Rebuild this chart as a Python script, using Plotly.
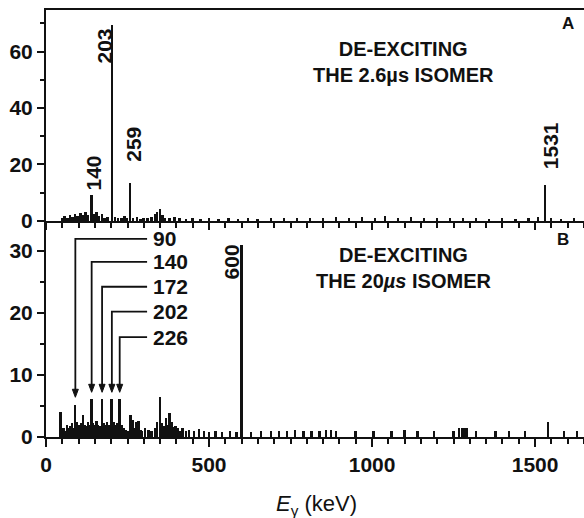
import plotly.graph_objects as go

# ---- Panel A: de-exciting the 2.6 us isomer ----
a_energy = [50, 58, 66, 74, 82, 90, 98, 106, 114, 122, 130, 140, 148, 156, 164, 172, 180, 190,
            203, 212, 222, 232, 242, 250, 259, 268, 280, 290, 300, 312, 325, 335, 342, 350, 358,
            366, 380, 395, 410, 430, 450, 475, 500, 530, 560, 590, 620, 650, 690, 730, 770, 810,
            850, 890, 930, 970, 1010, 1040, 1080, 1120, 1160, 1200, 1240, 1280, 1320, 1360, 1400,
            1440, 1480, 1510, 1531, 1550, 1580, 1620]
a_counts = [1.0, 1.8, 1.2, 2.2, 1.5, 2.4, 1.8, 2.8, 2.0, 3.2, 2.2, 9.2, 2.6, 3.0, 1.8, 2.4, 1.2, 1.5,
            69.5, 1.4, 1.0, 1.2, 1.8, 1.0, 13.5, 1.0, 1.4, 0.8, 1.2, 1.0, 1.5, 2.4, 3.0, 4.2, 2.0,
            1.2, 1.0, 1.4, 1.0, 0.8, 1.2, 0.8, 1.0, 0.8, 1.0, 0.8, 1.0, 0.8, 1.0, 1.2, 1.0, 1.2,
            1.0, 1.4, 1.0, 1.4, 1.2, 1.6, 1.2, 1.4, 1.0, 1.2, 1.0, 1.0, 1.0, 0.8, 1.0,
            0.8, 1.0, 1.4, 12.7, 1.0, 0.8, 1.0]
a_labels = ["140", "203", "259", "1531"]
a_label_x = [146, 179, 270, 1546]
a_label_y = [17.0, 61.9, 27.0, 26.5]

# ---- Panel B: de-exciting the 20 us isomer ----
b_energy = [45, 50, 55, 60, 65, 70, 75, 80, 85, 90, 95, 100, 105, 110, 115, 120, 125, 130, 135,
            140, 145, 150, 155, 160, 165, 172, 178, 183, 188, 193, 202, 208, 213, 218, 226, 232,
            238, 245, 252, 260, 266, 272, 278, 284, 290, 296, 305, 315, 325, 335, 342, 350, 356,
            362, 368, 374, 380, 386, 392, 398, 404, 412, 420, 430, 440, 455, 470, 485, 500, 520,
            540, 565, 585, 600, 630, 660, 690, 715, 740, 765, 790, 815, 840, 860, 875, 890, 950,
            1005, 1060, 1100, 1140, 1190, 1250, 1268, 1276, 1284, 1292, 1320, 1380, 1420, 1470,
            1540, 1590, 1630]
b_counts = [4.0, 1.2, 1.5, 1.0, 2.0, 1.5, 1.8, 2.2, 1.5, 5.2, 2.5, 2.0, 1.8, 2.2, 3.5, 2.0, 1.8, 2.4, 2.0,
            6.2, 2.2, 2.0, 2.6, 2.0, 1.8, 6.2, 2.2, 2.0, 2.4, 2.0, 6.2, 2.4, 2.0, 2.2, 6.2, 2.0,
            1.5, 1.2, 1.0, 3.6, 2.8, 1.5, 2.5, 2.6, 1.2, 1.0, 1.5, 1.2, 1.0, 1.4, 2.5, 6.4, 2.2,
            1.8, 3.0, 2.0, 3.8, 2.5, 1.6, 1.8, 1.4, 1.0, 1.4, 1.0, 1.2, 1.0, 1.3, 1.0, 0.8, 1.0,
            0.8, 1.0, 0.8, 31.0, 0.8, 1.0, 1.0, 1.0, 1.0, 1.2, 1.0, 1.0, 1.0, 1.2, 1.2, 1.0, 1.0,
            1.0, 1.0, 1.2, 1.0, 1.0, 1.0, 1.5, 1.5, 1.5, 1.5, 1.0, 1.0, 1.0, 1.0,
            2.4, 1.0, 1.0]
b_peak_labels = ["600"]
b_peak_label_x = [569]
b_peak_label_y = [28.2]
b_arrow_energy = [90, 140, 172, 202, 226]
b_arrow_text = ["90", "140", "172", "202", "226"]
b_arrow_label_y = [31.9, 28.2, 24.2, 20.2, 16.1]
b_arrow_tip_y = [6.4, 7.2, 7.2, 7.2, 7.2]
b_arrow_turn_x = 310
b_arrow_text_x = 322

FONT = "Liberation Sans, Arial, Helvetica, sans-serif"
INK = "#111111"

X_MAX = 1650
YB_MAX = 34.8
YA_MAX = 74.7
ML, MR, MT, MB = 46, 0, 10, 81
W, H = 584, 518
plot_w = W - ML - MR
plot_h = H - MT - MB
B_DOMAIN = [0, 0.506]

fig = go.Figure()
fig.add_trace(go.Bar(x=a_energy, y=a_counts, width=6, marker=dict(color=INK, line=dict(width=0)),
                     xaxis="x2", yaxis="y2", showlegend=False))
fig.add_trace(go.Bar(x=b_energy, y=b_counts, width=6, marker=dict(color=INK, line=dict(width=0)),
                     xaxis="x", yaxis="y", showlegend=False))

axis_common = dict(showline=True, linewidth=2, linecolor=INK, ticks="outside", tickwidth=2,
                   tickcolor=INK, showgrid=False, zeroline=False,
                   tickfont=dict(family=FONT, size=21, color=INK, weight="bold"))

fig.update_layout(
    width=W, height=H,
    margin=dict(l=ML, r=MR, t=MT, b=MB),
    paper_bgcolor="white", plot_bgcolor="white",
    bargap=0,
    xaxis=dict(axis_common, range=[0, X_MAX], tickvals=[0, 500, 1000, 1500], ticklen=8,
               minor=dict(dtick=50, ticklen=5, ticks="outside", tickwidth=2, tickcolor=INK),
               anchor="y"),
    xaxis2=dict(axis_common, range=[0, X_MAX], tickvals=[0, 500, 1000, 1500], ticklen=7,
                showticklabels=False, mirror=True, matches="x",
                minor=dict(dtick=50, ticklen=5, ticks="outside", tickwidth=2, tickcolor=INK),
                anchor="y2"),
    yaxis=dict(axis_common, range=[0, YB_MAX], dtick=10, ticklen=7, domain=B_DOMAIN,
               minor=dict(dtick=5, ticklen=4, ticks="outside", tickwidth=2, tickcolor=INK),
               anchor="x"),
    yaxis2=dict(axis_common, range=[0, YA_MAX], dtick=20, ticklen=7, domain=[B_DOMAIN[1], 1],
                minor=dict(dtick=10, ticklen=4, ticks="outside", tickwidth=2, tickcolor=INK),
                anchor="x2"),
)

ann = []
tfont = dict(family=FONT, size=21, color=INK, weight="bold")
for t, x, y in zip(a_labels, a_label_x, a_label_y):
    ann.append(dict(text=t, x=x, y=y, xref="x2", yref="y2", textangle=-90, showarrow=False,
                    xanchor="center", yanchor="middle", font=tfont))
for t, x, y in zip(b_peak_labels, b_peak_label_x, b_peak_label_y):
    ann.append(dict(text=t, x=x, y=y, xref="x", yref="y", textangle=-90, showarrow=False,
                    xanchor="center", yanchor="middle", font=tfont))

# arrowhead size in data units, from pixel size
kev_per_px = X_MAX / plot_w
cnt_per_px = YB_MAX / (plot_h * (B_DOMAIN[1] - B_DOMAIN[0]))
head_half_w = 3.0 * kev_per_px
head_len = 8.0 * cnt_per_px

shapes = []
for e, t, ly, ty in zip(b_arrow_energy, b_arrow_text, b_arrow_label_y, b_arrow_tip_y):
    shapes.append(dict(type="path", xref="x", yref="y",
                       path=f"M {b_arrow_turn_x},{ly} L {e},{ly} L {e},{ty + head_len * 0.6}",
                       line=dict(color=INK, width=1.8)))
    shapes.append(dict(type="path", xref="x", yref="y",
                       path=(f"M {e - head_half_w},{ty + head_len} L {e + head_half_w},{ty + head_len} "
                             f"L {e},{ty} Z"),
                       fillcolor=INK, line=dict(color=INK, width=1)))
    ann.append(dict(text=t, x=b_arrow_text_x, y=ly, xref="x", yref="y", showarrow=False,
                    xanchor="left", yanchor="middle", font=tfont))

hfont = dict(family=FONT, size=20, color=INK, weight="bold")
ann.append(dict(text="DE-EXCITING<br>THE 2.6µs ISOMER", x=0.665, y=0.754, xref="x2 domain",
                yref="y2 domain", showarrow=False, xanchor="center", yanchor="middle",
                font=hfont))
ann.append(dict(text="DE-EXCITING<br>THE 20<i>µs</i> ISOMER", x=0.665, y=0.782, xref="x domain",
                yref="y domain", showarrow=False, xanchor="center", yanchor="middle",
                font=hfont))
ann.append(dict(text="A", x=0.970, y=0.935, xref="x2 domain", yref="y2 domain",
                showarrow=False, xanchor="center", yanchor="middle",
                font=dict(family=FONT, size=17, color=INK, weight="bold")))
ann.append(dict(text="B", x=0.961, y=0.912, xref="x domain", yref="y domain",
                showarrow=False, xanchor="center", yanchor="middle",
                font=dict(family=FONT, size=17, color=INK, weight="bold")))

ann.append(dict(text="<i>E</i><sub>γ</sub> (keV)", x=(316 - ML) / plot_w,
                y=-(505 - (H - MB)) / plot_h, xref="paper", yref="paper",
                xanchor="center", yanchor="middle", showarrow=False,
                font=dict(family=FONT, size=22, color=INK)))

fig.update_layout(annotations=ann, shapes=shapes)
fig.write_html("out.html")
